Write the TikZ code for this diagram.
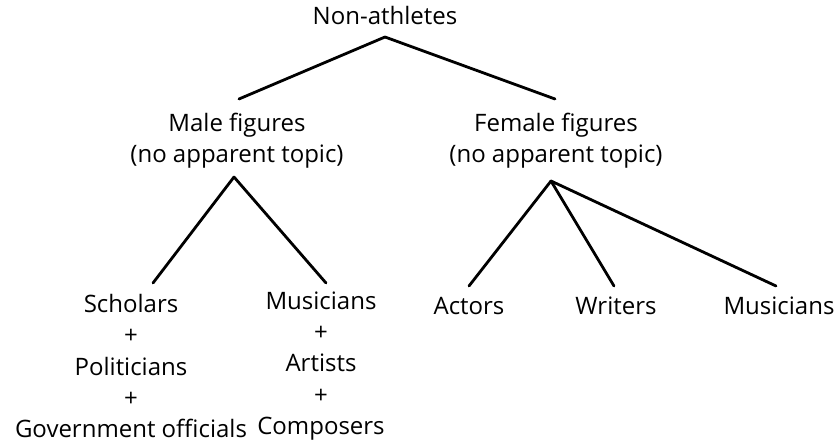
\documentclass[tikz,border=0pt]{standalone}
\usepackage{fontspec}
\setmainfont{Open Sans}
\begin{document}
\begin{tikzpicture}[x=1pt,y=-1pt,
  lbl/.style={inner sep=0pt,font=\fontsize{24}{31.3}\selectfont,align=center,anchor=center},
  edge/.style={line width=2.8pt,line cap=round}]
\useasboundingbox (0,0) rectangle (840,446);
% text nodes
\node[lbl] (root) at (385,16) {Non-athletes};
\node[lbl] (male) at (237,141) {Male figures\\(no apparent topic)};
\node[lbl] (female) at (556,141) {Female figures\\(no apparent topic)};
\node[lbl] (schol) at (131,366) {Scholars\\+\\Politicians\\+\\Government officials};
\node[lbl] (mus1) at (321,366) {Musicians\\+\\Artists\\+\\Composers};
\node[lbl] (act) at (469,306) {Actors};
\node[lbl] (wri) at (616,306) {Writers};
\node[lbl] (mus2) at (779,306) {Musicians};
% connector ends
\coordinate (rootb) at (385,37);
\coordinate (malet) at (239,99);
\coordinate (femt) at (555,99);
\coordinate (maleb) at (234,177);
\coordinate (femb) at (551,181);
\coordinate (scholt) at (153,283);
\coordinate (mus1t) at (326,283);
\coordinate (actt) at (469,286);
\coordinate (writ) at (614,286);
\coordinate (mus2t) at (776,286);
% connectors
\draw[edge] (rootb) -- (malet);
\draw[edge] (rootb) -- (femt);
\draw[edge] (maleb) -- (scholt);
\draw[edge] (maleb) -- (mus1t);
\draw[edge] (femb) -- (actt);
\draw[edge] (femb) -- (writ);
\draw[edge] (femb) -- (mus2t);
\end{tikzpicture}
\end{document}
